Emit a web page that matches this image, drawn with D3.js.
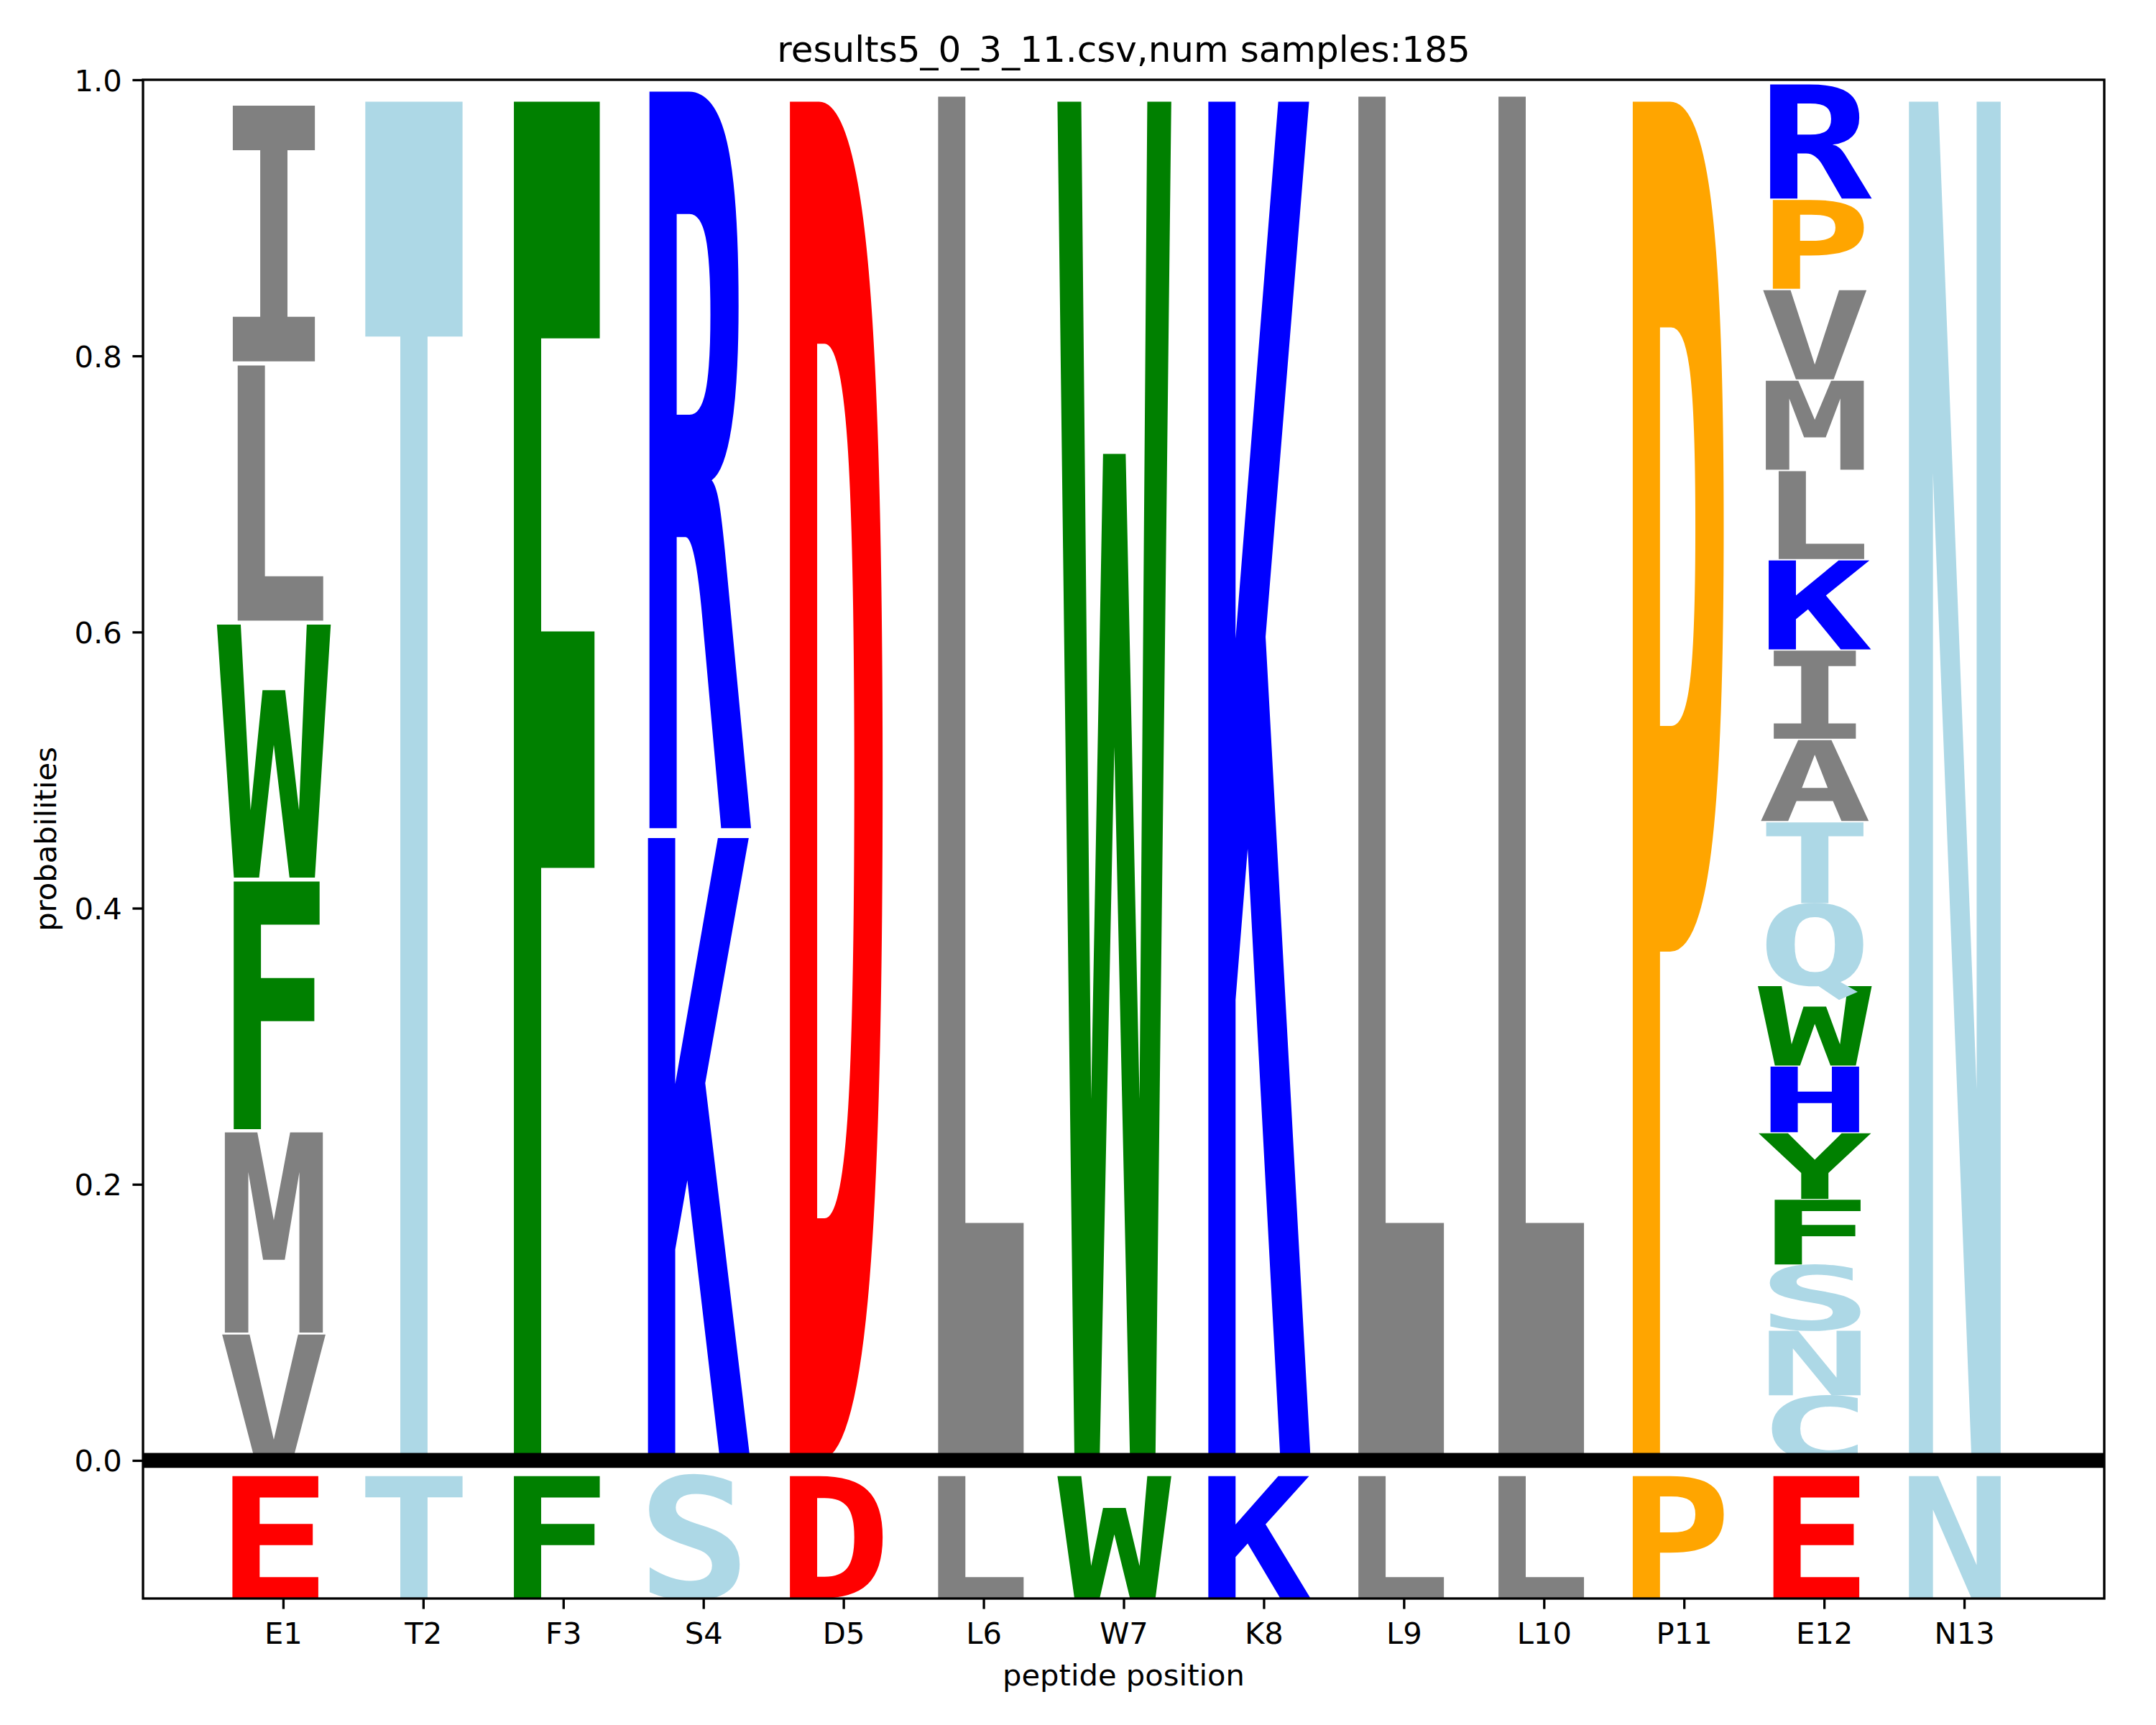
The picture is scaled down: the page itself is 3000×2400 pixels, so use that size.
<!DOCTYPE html>
<html>
<head>
<meta charset="utf-8">
<script src="https://cdn.jsdelivr.net/npm/d3@7"></script>
<style>
  html, body { margin: 0; padding: 0; background: #ffffff; }
  svg { display: block; }
</style>
</head>
<body>
<script>
// ---------------- data ----------------
const positionLabels = ["E1","T2","F3","S4","D5","L6","W7","K8","L9","L10","P11","E12","N13"];
const referenceSeq   = ["E","T","F","S","D","L","W","K","L","L","P","E","N"];

// letters of each column, stacked from bottom to top
const stackLetters = [
  ["V","M","F","W","L","I"],
  ["T"],
  ["F"],
  ["K","R"],
  ["D"],
  ["L"],
  ["W"],
  ["K"],
  ["L"],
  ["L"],
  ["P"],
  ["C","N","S","F","Y","H","W","Q","T","A","I","K","L","M","V","P","R"],
  ["N"]
];
// matching probabilities (letter heights)
const stackProbs = [
  [0.0926, 0.1474, 0.1822, 0.1861, 0.1877, 0.1883],
  [1.0],
  [1.0],
  [0.458, 0.542],
  [1.0],
  [1.0037],
  [1.0],
  [1.0],
  [1.0037],
  [1.0037],
  [1.0],
  [0.0472, 0.0475, 0.0473, 0.0475, 0.0482, 0.0483, 0.0585, 0.0592, 0.0594, 0.0596,
   0.0648, 0.0654, 0.0647, 0.0654, 0.0657, 0.0653, 0.0839],
  [1.0]
];
const refLetterScale = 0.09;
const yTicks = [0.0, 0.2, 0.4, 0.6, 0.8, 1.0];
const titleText = "results5_0_3_11.csv,num samples:185";
const xLabelText = "peptide position";
const yLabelText = "probabilities";

// ---------------- style ----------------
const letterColor = {
  E: "red", D: "red",
  K: "blue", R: "blue", H: "blue",
  P: "orange", G: "orange",
  T: "lightblue", S: "lightblue", N: "lightblue", Q: "lightblue", C: "lightblue",
  W: "green", F: "green", Y: "green",
  I: "gray", L: "gray", M: "gray", V: "gray", A: "gray"
};
const WIDTH = 3000, HEIGHT = 2400;
const pLeft = 199, pRight = 2928, pTop = 111, pBottom = 2224;
const globScale = 1.35, xOffset = -0.35;
const FS = 200; // base font size for glyphs

const svg = d3.select("body").append("svg")
  .attr("width", WIDTH).attr("height", HEIGHT)
  .attr("viewBox", `0 0 ${WIDTH} ${HEIGHT}`);
svg.append("rect").attr("width", WIDTH).attr("height", HEIGHT).attr("fill", "#fff");

const x = d3.scaleLinear().domain([0, 14]).range([pLeft, pRight]);
const y = d3.scaleLinear().domain([-0.1, 1.0]).range([pBottom, pTop]);

svg.append("defs").append("clipPath").attr("id", "plotclip")
  .append("rect").attr("x", pLeft).attr("y", pTop)
  .attr("width", pRight - pLeft).attr("height", pBottom - pTop);

const plot = svg.append("g").attr("clip-path", "url(#plotclip)");

function drawLetter(letter, pos, base, scaleY) {
  const sx = (x(globScale) - x(0)) / FS;
  const sy = (y(0) - y(globScale * scaleY)) / FS;
  plot.append("text")
    .text(letter)
    .attr("font-family", "'DejaVu Sans Mono', monospace")
    .attr("font-weight", "bold")
    .attr("font-size", FS)
    .attr("fill", letterColor[letter] || "black")
    .attr("transform", `translate(${x(pos + xOffset * globScale)},${y(base)}) scale(${sx},${sy})`);
}

stackLetters.forEach((letters, i) => {
  const probs = stackProbs[i];
  let base = 0;
  letters.forEach((l, j) => {
    drawLetter(l, i + 1, base, probs[j]);
    base += probs[j];
  });
});
referenceSeq.forEach((l, i) => drawLetter(l, i + 1, -0.1, refLetterScale));

// thick zero line
svg.append("line")
  .attr("x1", pLeft).attr("x2", pRight)
  .attr("y1", y(0)).attr("y2", y(0))
  .attr("stroke", "#000").attr("stroke-width", 20.8);

// axes
const lw = 3.33;
const tickLen = 14.6;
const xAxis = d3.axisBottom(x)
  .tickValues(d3.range(1, 14))
  .tickFormat((d, i) => positionLabels[i])
  .tickSize(tickLen).tickSizeOuter(0);
const gx = svg.append("g").attr("transform", `translate(0,${pBottom})`).call(xAxis);
gx.select(".domain").remove();
gx.selectAll(".tick line").attr("stroke", "#000").attr("stroke-width", lw);
gx.selectAll(".tick text")
  .attr("font-family", "'DejaVu Sans', sans-serif")
  .attr("font-size", 41.7).attr("fill", "#000")
  .attr("y", 63).attr("dy", null);

const yAxis = d3.axisLeft(y)
  .tickValues(yTicks)
  .tickFormat(d3.format(".1f"))
  .tickSize(tickLen).tickSizeOuter(0);
const gy = svg.append("g").attr("transform", `translate(${pLeft},0)`).call(yAxis);
gy.select(".domain").remove();
gy.selectAll(".tick line").attr("stroke", "#000").attr("stroke-width", lw);
gy.selectAll(".tick text")
  .attr("font-family", "'DejaVu Sans', sans-serif")
  .attr("font-size", 41.7).attr("fill", "#000")
  .attr("x", -(tickLen + 14.6)).attr("dy", "0.36em");

// spines
svg.append("rect")
  .attr("x", pLeft).attr("y", pTop)
  .attr("width", pRight - pLeft).attr("height", pBottom - pTop)
  .attr("fill", "none").attr("stroke", "#000").attr("stroke-width", lw);

// title and labels
svg.append("text").text(titleText)
  .attr("x", (pLeft + pRight) / 2).attr("y", 86)
  .attr("text-anchor", "middle")
  .attr("font-family", "'DejaVu Sans', sans-serif")
  .attr("font-size", 50).attr("fill", "#000");
svg.append("text").text(xLabelText)
  .attr("x", (pLeft + pRight) / 2).attr("y", 2345)
  .attr("text-anchor", "middle")
  .attr("font-family", "'DejaVu Sans', sans-serif")
  .attr("font-size", 41.7).attr("fill", "#000");
svg.append("text").text(yLabelText)
  .attr("transform", `translate(78,${(pTop + pBottom) / 2}) rotate(-90)`)
  .attr("text-anchor", "middle")
  .attr("font-family", "'DejaVu Sans', sans-serif")
  .attr("font-size", 41.7).attr("fill", "#000");
</script>
</body>
</html>
